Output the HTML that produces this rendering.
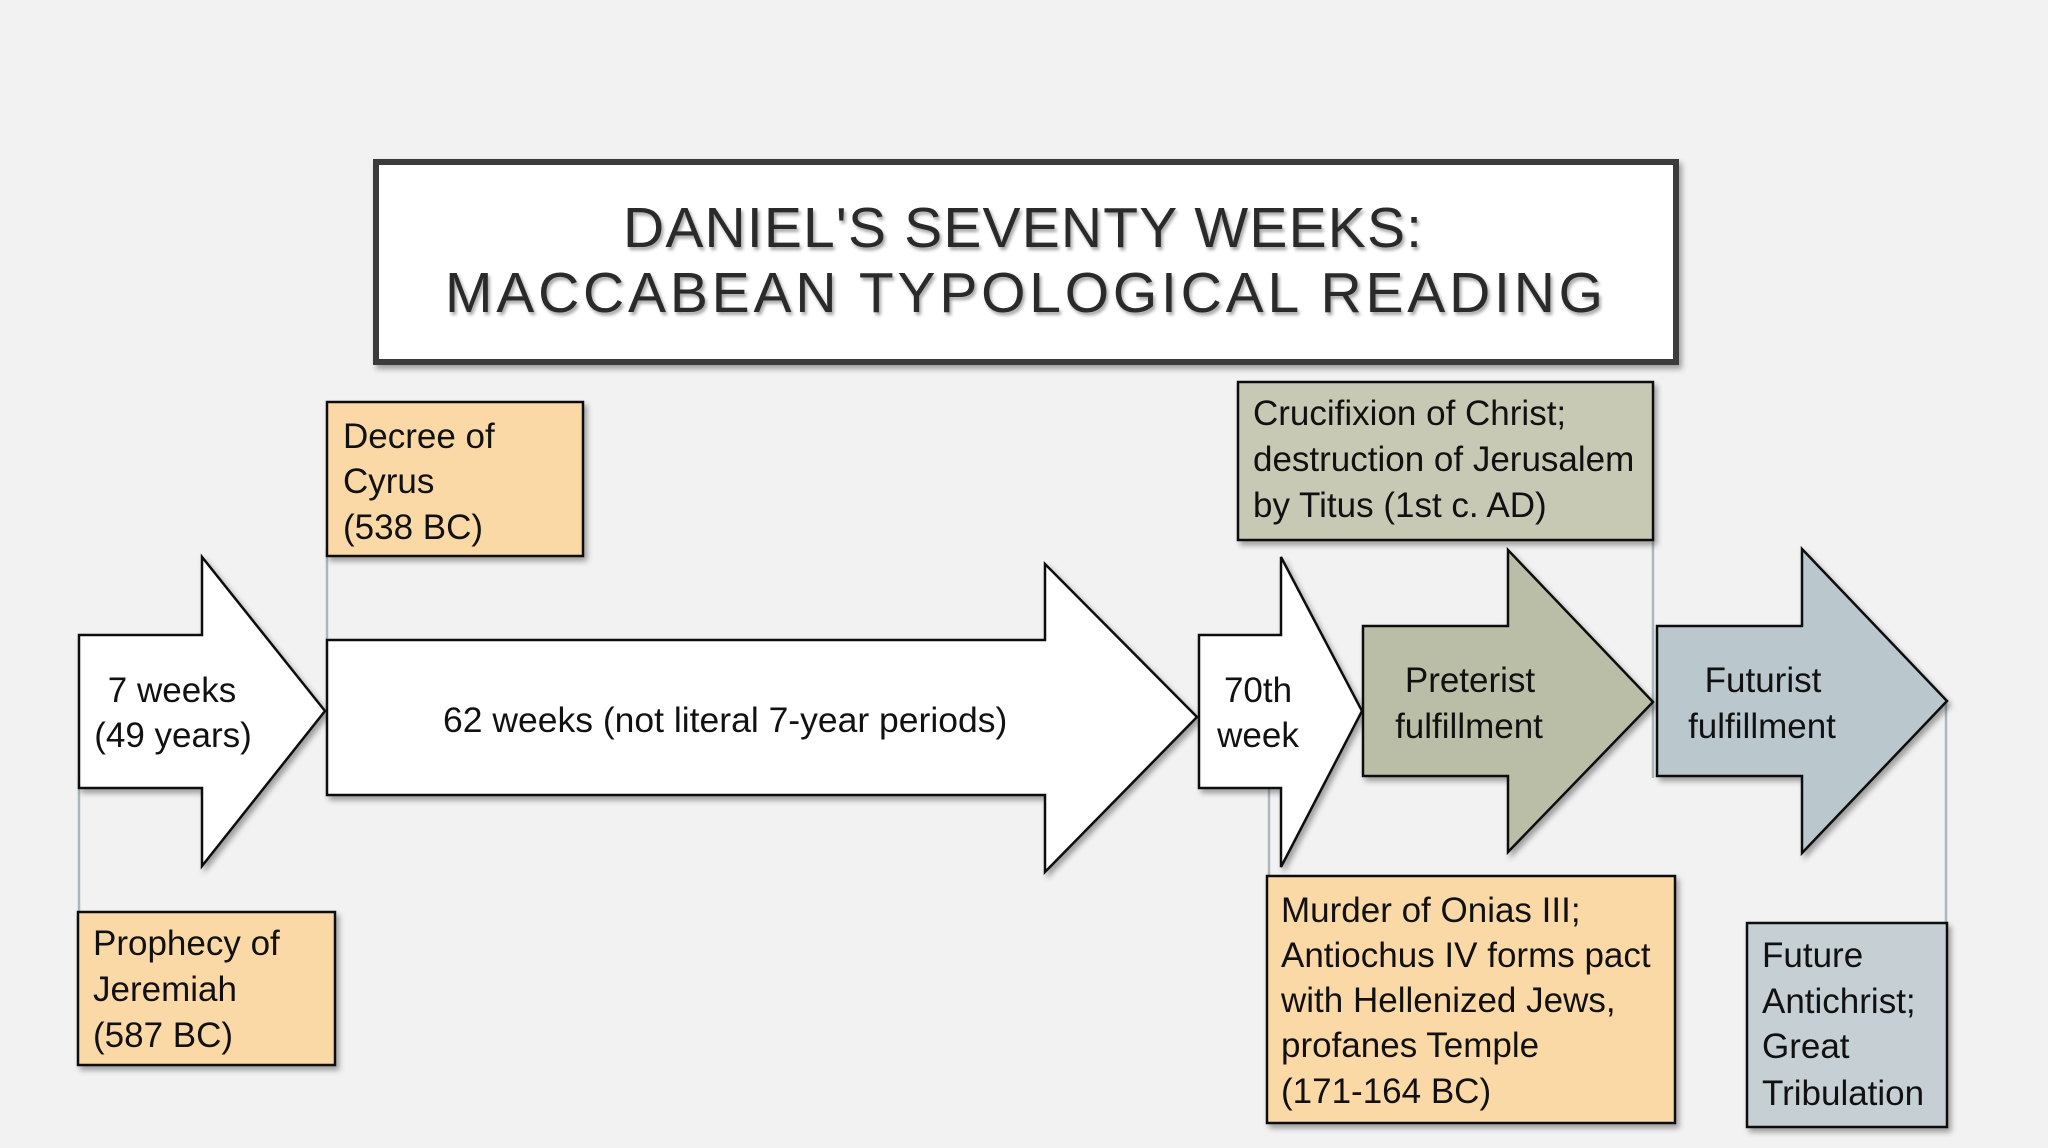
<!DOCTYPE html>
<html>
<head>
<meta charset="utf-8">
<style>
  html, body { margin: 0; padding: 0; background: #f2f2f2; }
  svg { display: block; }
  text { font-family: "Liberation Sans", "DejaVu Sans", sans-serif; fill: #111; }
</style>
</head>
<body>
<svg width="2048" height="1148" viewBox="0 0 2048 1148" xmlns="http://www.w3.org/2000/svg">
  <defs>
    <filter id="sh" x="-10%" y="-10%" width="130%" height="130%">
      <feDropShadow dx="3" dy="4" stdDeviation="3" flood-color="#000" flood-opacity="0.35"/>
    </filter>
    <filter id="tsh" x="-5%" y="-20%" width="115%" height="150%">
      <feDropShadow dx="2" dy="3" stdDeviation="1.5" flood-color="#000" flood-opacity="0.35"/>
    </filter>
  </defs>

  <rect x="0" y="0" width="2048" height="1148" fill="#f2f2f2"/>

  <!-- Title box -->
  <rect x="376" y="162" width="1300" height="200" fill="#ffffff" stroke="#3b3b3b" stroke-width="6" filter="url(#sh)"/>
  <g filter="url(#tsh)">
    <text x="623" y="247" font-size="57" textLength="799" lengthAdjust="spacing" style="fill:#2a2a2a">DANIEL'S SEVENTY WEEKS:</text>
    <text x="445" y="312" font-size="57" textLength="1158" lengthAdjust="spacing" style="fill:#2a2a2a">MACCABEAN TYPOLOGICAL READING</text>
  </g>

  <!-- Connectors -->
  <g stroke="#a9b8c0" stroke-width="2.5" fill="none">
    <line x1="79" y1="780" x2="79" y2="914"/>
    <line x1="327" y1="550" x2="327" y2="642"/>
    <line x1="1269" y1="780" x2="1269" y2="878"/>
    <line x1="1653" y1="535" x2="1653" y2="778"/>
    <line x1="1946" y1="701" x2="1946" y2="1085"/>
  </g>

  <!-- Arrows -->
  <g stroke="#111" stroke-width="2.5" stroke-linejoin="miter" filter="url(#sh)">
    <polygon points="79,635 202,635 202,557 325,711 202,866 202,788 79,788" fill="#ffffff"/>
    <polygon points="327,640 1045,640 1045,564 1197,717 1045,872 1045,795 327,795" fill="#ffffff"/>
    <polygon points="1199,635 1281,635 1281,557 1362,711 1281,867 1281,788 1199,788" fill="#ffffff"/>
    <polygon points="1363,626 1508,626 1508,550 1653,702 1508,852 1508,776 1363,776" fill="#bbbea7"/>
    <polygon points="1657,626 1802,626 1802,549 1947,701 1802,853 1802,776 1657,776" fill="#bac7cd"/>
  </g>

  <!-- Boxes -->
  <g stroke="#111" stroke-width="2.5" filter="url(#sh)">
    <rect x="327" y="402" width="256" height="154" fill="#fbd9a7"/>
    <rect x="78" y="912" width="257" height="153" fill="#fbd9a7"/>
    <rect x="1238" y="382" width="415" height="158" fill="#c7c9b5"/>
    <rect x="1267" y="876" width="408" height="247" fill="#fbd9a7"/>
    <rect x="1747" y="923" width="200" height="204" fill="#c5cfd4"/>
  </g>

  <!-- Arrow labels -->
  <g font-size="35" text-anchor="middle">
    <text x="172" y="702">7 weeks</text>
    <text x="173" y="747">(49 years)</text>
    <text x="1258" y="702">70th</text>
    <text x="1258" y="747">week</text>
    <text x="1470" y="692">Preterist</text>
    <text x="1469" y="738">fulfillment</text>
    <text x="1763" y="692">Futurist</text>
    <text x="1762" y="738">fulfillment</text>
  </g>
  <text x="443" y="732" font-size="35.5">62 weeks (not literal 7-year periods)</text>

  <!-- Box labels -->
  <g font-size="35">
    <text x="343" y="448">Decree of</text>
    <text x="343" y="493">Cyrus</text>
    <text x="343" y="539">(538 BC)</text>

    <text x="93" y="955">Prophecy of</text>
    <text x="93" y="1001">Jeremiah</text>
    <text x="93" y="1047">(587 BC)</text>

    <text x="1253" y="425">Crucifixion of Christ;</text>
    <text x="1253" y="471">destruction of Jerusalem</text>
    <text x="1253" y="517">by Titus (1st c. AD)</text>

    <text x="1281" y="922">Murder of Onias III;</text>
    <text x="1281" y="967">Antiochus IV forms pact</text>
    <text x="1281" y="1012">with Hellenized Jews,</text>
    <text x="1281" y="1057">profanes Temple</text>
    <text x="1281" y="1103">(171-164 BC)</text>

    <text x="1762" y="967">Future</text>
    <text x="1762" y="1013">Antichrist;</text>
    <text x="1762" y="1058">Great</text>
    <text x="1762" y="1105">Tribulation</text>
  </g>
</svg>
</body>
</html>
